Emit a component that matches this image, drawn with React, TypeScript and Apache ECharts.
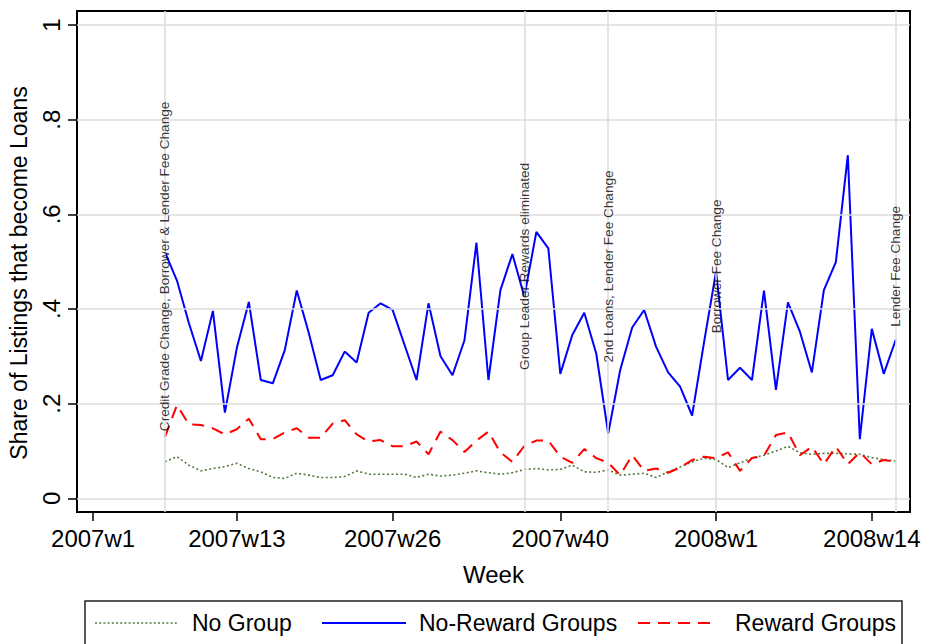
import React, { useEffect, useRef } from "react";
import * as echarts from "echarts";

// week index: 0 = 2007w1, 52 = 2008w1
const START_WEEK = 6; // first observation 2007w7

const noGroup = [
  0.077, 0.088, 0.07, 0.058, 0.063, 0.067, 0.074, 0.063, 0.056, 0.044,
  0.042, 0.053, 0.049, 0.044, 0.044, 0.046, 0.058, 0.051, 0.051, 0.051,
  0.051, 0.044, 0.051, 0.047, 0.049, 0.053, 0.058, 0.054, 0.051, 0.054,
  0.061, 0.063, 0.06, 0.061, 0.07, 0.056, 0.055, 0.06, 0.049, 0.051,
  0.053, 0.044, 0.056, 0.066, 0.077, 0.085, 0.082, 0.065, 0.075, 0.085,
  0.091, 0.1, 0.11, 0.096, 0.093, 0.095, 0.095, 0.094, 0.093, 0.086,
  0.082, 0.079,
];

const noReward = [
  0.52, 0.46, 0.37, 0.29, 0.396, 0.181, 0.318, 0.415, 0.25, 0.243,
  0.313, 0.439, 0.35, 0.25, 0.26, 0.31, 0.287, 0.392, 0.412, 0.398,
  0.324, 0.25, 0.412, 0.3, 0.26, 0.334, 0.54, 0.25, 0.44, 0.516,
  0.426, 0.563, 0.528, 0.263, 0.345, 0.392, 0.306, 0.137, 0.271, 0.361,
  0.398, 0.32, 0.266, 0.236, 0.175, 0.33, 0.479, 0.25, 0.276, 0.25,
  0.439, 0.229, 0.414, 0.352, 0.266, 0.44, 0.499, 0.725, 0.125, 0.358,
  0.263, 0.335,
];

const reward = [
  0.13, 0.197, 0.156, 0.155, 0.148, 0.135, 0.146, 0.168, 0.125, 0.125,
  0.139, 0.148, 0.128, 0.128, 0.158, 0.165, 0.135, 0.12, 0.123, 0.11,
  0.11, 0.12, 0.093, 0.141, 0.123, 0.098, 0.122, 0.141, 0.097, 0.077,
  0.111, 0.122, 0.122, 0.088, 0.075, 0.104, 0.085, 0.075, 0.049, 0.091,
  0.058, 0.063, 0.054, 0.065, 0.081, 0.088, 0.085, 0.097, 0.058, 0.085,
  0.09, 0.134, 0.139, 0.091, 0.109, 0.072, 0.109, 0.072, 0.097, 0.072,
  0.081, 0.077,
];

const seriesNames = ["No Group", "No-Reward Groups", "Reward Groups"];
const seriesColors = ["#52793a", "#0000ff", "#ff0000"];

const xTickWeeks = [0, 12, 25, 39, 52, 65];
const xTickLabels = ["2007w1", "2007w13", "2007w26", "2007w40", "2008w1", "2008w14"];
const yTickValues = [0, 0.2, 0.4, 0.6, 0.8, 1];
const yTickLabels = ["0", ".2", ".4", ".6", ".8", "1"];

const eventWeeks = [6, 36, 43, 52, 67];
const eventLabels = [
  "Credit Grade Change, Borrower & Lender Fee Change",
  "Group Leader Rewards eliminated",
  "2nd Loans, Lender Fee Change",
  "Borrower Fee Change",
  "Lender Fee Change",
];
const eventLabelY = 0.49;

const FONT = "'Liberation Sans', Arial, Helvetica, sans-serif";

const toPoints = (arr: number[]) => arr.map((v, i) => [START_WEEK + i, v]);

export default function App() {
  const ref = useRef<HTMLDivElement>(null);

  useEffect(() => {
    if (!ref.current) return;
    const chart = echarts.init(ref.current, undefined, { renderer: "svg" });

    const legendY = 623;
    const legendItems = [
      { x1: 95, x2: 177, tx: 192, dash: [2, 2.2], width: 1.6 },
      { x1: 322, x2: 406, tx: 419, dash: null as number[] | null, width: 2 },
      { x1: 638, x2: 715, tx: 735, dash: [12, 8], width: 2 },
    ];

    const graphic: any[] = [
      {
        type: "text",
        x: 19,
        y: 273,
        rotation: Math.PI / 2,
        style: {
          text: "Share of Listings that become Loans",
          fontSize: 23,
          fontFamily: FONT,
          fill: "#000",
          align: "center",
          verticalAlign: "middle",
        },
      },
      {
        type: "rect",
        shape: { x: 85, y: 601, width: 817, height: 60 },
        style: { fill: "#fff", stroke: "#222", lineWidth: 1.5 },
      },
    ];
    legendItems.forEach((it, i) => {
      graphic.push({
        type: "line",
        shape: { x1: it.x1, y1: legendY, x2: it.x2, y2: legendY },
        style: {
          stroke: seriesColors[i],
          lineWidth: it.width,
          lineDash: it.dash || undefined,
        },
      });
      graphic.push({
        type: "text",
        x: it.tx,
        y: legendY,
        style: {
          text: seriesNames[i],
          fontSize: 23,
          fontFamily: FONT,
          fill: "#000",
          align: "left",
          verticalAlign: "middle",
        },
      });
    });

    const option: any = {
      animation: false,
      backgroundColor: "#fff",
      grid: {
        left: 77,
        right: 15,
        top: 11,
        bottom: 132,
        show: true,
        borderColor: "#000",
        borderWidth: 2,
        backgroundColor: "#fff",
      },
      xAxis: {
        type: "value",
        min: -1.344,
        max: 68.19,
        axisLine: { show: true, onZero: false, lineStyle: { color: "#000", width: 2 } },
        axisTick: {
          show: true,
          customValues: xTickWeeks,
          length: 9,
          lineStyle: { color: "#000", width: 1.5 },
        },
        axisLabel: {
          customValues: xTickWeeks,
          formatter: (v: number) => {
            const k = xTickWeeks.indexOf(Math.round(v));
            return k >= 0 ? xTickLabels[k] : "";
          },
          fontSize: 24,
          fontFamily: FONT,
          color: "#000",
          margin: 14,
        },
        splitLine: { show: false },
        name: "Week",
        nameLocation: "middle",
        nameGap: 50,
        nameTextStyle: { fontSize: 24, fontFamily: FONT, color: "#000" },
      },
      yAxis: {
        type: "value",
        min: -0.0289,
        max: 1.0296,
        axisLine: { show: true, onZero: false, lineStyle: { color: "#000", width: 2 } },
        axisTick: {
          show: true,
          customValues: yTickValues,
          length: 9,
          lineStyle: { color: "#000", width: 1.5 },
        },
        axisLabel: {
          customValues: yTickValues,
          rotate: 90,
          formatter: (v: number) => {
            const k = yTickValues.findIndex((t) => Math.abs(t - v) < 1e-6);
            return k >= 0 ? yTickLabels[k] : "";
          },
          fontSize: 24,
          fontFamily: FONT,
          color: "#000",
          margin: 14,
        },
        splitLine: { show: false },
      },
      series: [
        {
          type: "line",
          data: [],
          silent: true,
          markLine: {
            silent: true,
            symbol: "none",
            label: { show: false },
            lineStyle: { color: "#dcdcdc", width: 1.5, type: "solid" },
            data: [
              ...yTickValues.map((v) => ({ yAxis: v })),
              ...eventWeeks.map((w) => ({ xAxis: w })),
            ],
          },
        },
        {
          name: seriesNames[0],
          type: "line",
          data: toPoints(noGroup),
          symbol: "none",
          lineStyle: { color: seriesColors[0], width: 1.6, type: [2, 2.5] },
        },
        {
          name: seriesNames[1],
          type: "line",
          data: toPoints(noReward),
          symbol: "none",
          lineStyle: { color: seriesColors[1], width: 2 },
        },
        {
          name: seriesNames[2],
          type: "line",
          data: toPoints(reward),
          symbol: "none",
          lineStyle: { color: seriesColors[2], width: 2, type: [12, 8] },
        },
        {
          type: "scatter",
          silent: true,
          symbolSize: 1,
          itemStyle: { color: "rgba(0,0,0,0)" },
          data: eventWeeks.map((w, i) => ({ value: [w, eventLabelY], name: eventLabels[i] })),
          label: {
            show: true,
            position: "inside",
            rotate: 90,
            formatter: (p: any) => p.name,
            fontSize: 13.6,
            fontFamily: FONT,
            color: "#000",
            align: "center",
            verticalAlign: "middle",
          },
          z: 5,
        },
      ],
      graphic,
    };

    chart.setOption(option);
    return () => chart.dispose();
  }, []);

  return (
    <div
      ref={ref}
      style={{ position: "absolute", left: 0, top: 0, width: 925, height: 644 }}
    />
  );
}
